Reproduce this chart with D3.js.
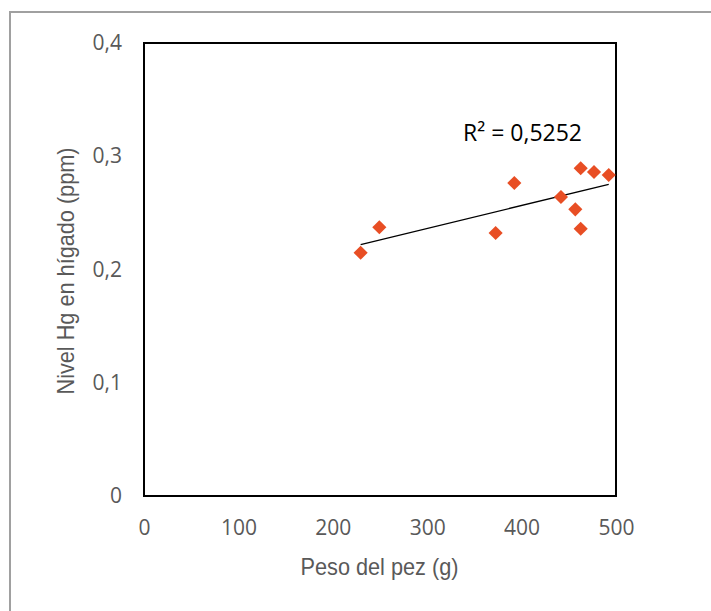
<!DOCTYPE html>
<html>
<head>
<meta charset="utf-8">
<script src="https://cdn.jsdelivr.net/npm/d3@7"></script>
<style>
  html, body { margin: 0; padding: 0; background: #fff; }
  svg { display: block; }
</style>
</head>
<body>
<svg id="chart" width="711" height="611"></svg>
<script>
// Data
const pesos  = [229.5, 249.3, 372.5, 392.3, 441.7, 456.9, 462.6, 462.6, 476.7, 492.3];
const nivelHg = [0.2148, 0.2373, 0.2322, 0.2764, 0.2640, 0.2531, 0.2360, 0.2894, 0.2861, 0.2834];
const xTicks = [0, 100, 200, 300, 400, 500];
const yTicks = [0, 0.1, 0.2, 0.3, 0.4];
const r2Label = "R² = 0,5252";
const xTitle = "Peso del pez (g)";
const yTitle = "Nivel Hg en hígado (ppm)";

const svg = d3.select("#chart");
const W = 711, H = 611;
const plot = { left: 144, right: 616, top: 43, bottom: 496 };

const x = d3.scaleLinear().domain([0, 500]).range([plot.left, plot.right]);
const y = d3.scaleLinear().domain([0, 0.4]).range([plot.bottom, plot.top]);

// outer frame (left & top gray edges)
svg.append("path")
  .attr("d", `M10,${H} L10,12 L${W},12`)
  .attr("fill", "none").attr("stroke", "#a0a0a0").attr("stroke-width", 2);

const tickFont = "'Open Sans', sans-serif";
const fmtY = d => d === 0 ? "0" : d3.format(".1f")(d).replace(".", ",");

// X axis labels
const xAxis = svg.append("g")
  .attr("transform", `translate(0,${plot.bottom})`)
  .call(d3.axisBottom(x).tickValues(xTicks).tickSize(0).tickPadding(24).tickFormat(d3.format("d")));
xAxis.select(".domain").remove();
xAxis.selectAll("text").attr("font-family", tickFont).attr("font-size", 21).attr("fill", "#595959");

// Y axis labels
const yAxis = svg.append("g")
  .attr("transform", `translate(${plot.left},0)`)
  .call(d3.axisLeft(y).tickValues(yTicks).tickSize(0).tickPadding(22).tickFormat(fmtY));
yAxis.select(".domain").remove();
yAxis.selectAll("text").attr("font-family", tickFont).attr("font-size", 21).attr("fill", "#595959");

// plot border
svg.append("rect")
  .attr("x", x(0)).attr("y", y(0.4))
  .attr("width", x(500) - x(0)).attr("height", y(0) - y(0.4))
  .attr("fill", "none").attr("stroke", "#000").attr("stroke-width", 2);

// linear trendline (least squares)
const n = pesos.length;
const mx = d3.mean(pesos), my = d3.mean(nivelHg);
let sxy = 0, sxx = 0;
for (let i = 0; i < n; i++) { sxy += (pesos[i] - mx) * (nivelHg[i] - my); sxx += (pesos[i] - mx) ** 2; }
const slope = sxy / sxx, intercept = my - slope * mx;
const x0 = d3.min(pesos), x1 = d3.max(pesos);
svg.append("line")
  .attr("x1", x(x0)).attr("y1", y(intercept + slope * x0))
  .attr("x2", x(x1)).attr("y2", y(intercept + slope * x1))
  .attr("stroke", "#000").attr("stroke-width", 1.3);

// points (diamonds)
const sym = d3.symbol().type(d3.symbolSquare).size(100);
svg.append("g").selectAll("path")
  .data(pesos.map((p, i) => [p, nivelHg[i]]))
  .join("path")
  .attr("d", sym)
  .attr("transform", d => `translate(${x(d[0])},${y(d[1])}) rotate(45)`)
  .attr("fill", "#E84E24");

// R² label
svg.append("text")
  .attr("x", 463).attr("y", 141)
  .attr("font-family", tickFont).attr("font-size", 23)
  .attr("textLength", 119).attr("lengthAdjust", "spacingAndGlyphs")
  .attr("fill", "#000")
  .text(r2Label);

// axis titles
svg.append("text")
  .attr("x", 379.5).attr("y", 575)
  .attr("text-anchor", "middle")
  .attr("font-family", "'Liberation Sans', Arial, sans-serif").attr("font-size", 24)
  .attr("textLength", 158).attr("lengthAdjust", "spacingAndGlyphs")
  .attr("fill", "#595959")
  .text(xTitle);

svg.append("text")
  .attr("transform", `translate(74,271) rotate(-90)`)
  .attr("text-anchor", "middle")
  .attr("font-family", "'Liberation Sans', Arial, sans-serif").attr("font-size", 24)
  .attr("textLength", 247).attr("lengthAdjust", "spacingAndGlyphs")
  .attr("fill", "#595959")
  .text(yTitle);
</script>
</body>
</html>
